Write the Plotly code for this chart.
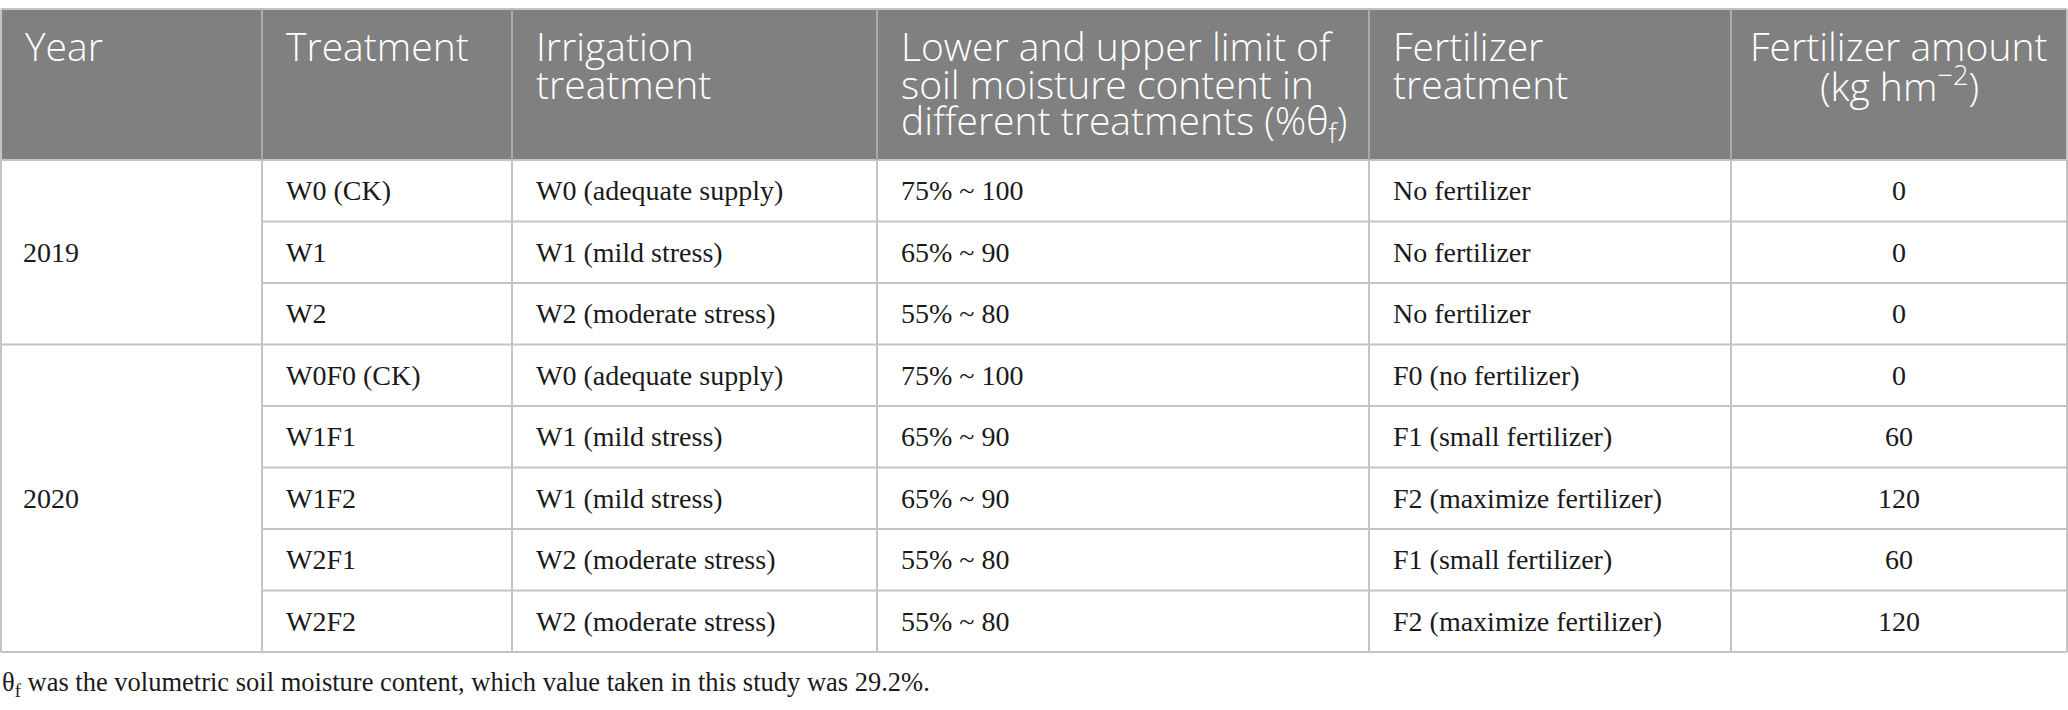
import plotly.graph_objects as go

W, H = 2068, 710

# table content
header_lines = [
    ["Year"],
    ["Treatment"],
    ["Irrigation", "treatment"],
    ["Lower and upper limit of", "soil moisture content in", "different treatments (%θ<sub>f</sub>)"],
    ["Fertilizer", "treatment"],
    ["Fertilizer amount", "(kg hm<sup>−2</sup>)"],
]
years = ["2019", "2020"]
year_spans = [3, 5]
treatments = ["W0 (CK)", "W1", "W2", "W0F0 (CK)", "W1F1", "W1F2", "W2F1", "W2F2"]
irrigation = ["W0 (adequate supply)", "W1 (mild stress)", "W2 (moderate stress)",
              "W0 (adequate supply)", "W1 (mild stress)", "W1 (mild stress)",
              "W2 (moderate stress)", "W2 (moderate stress)"]
moisture_limits = ["75% ~ 100", "65% ~ 90", "55% ~ 80", "75% ~ 100",
                   "65% ~ 90", "65% ~ 90", "55% ~ 80", "55% ~ 80"]
fert_treatment = ["No fertilizer", "No fertilizer", "No fertilizer", "F0 (no fertilizer)",
                  "F1 (small fertilizer)", "F2 (maximize fertilizer)",
                  "F1 (small fertilizer)", "F2 (maximize fertilizer)"]
fert_amount = [0, 0, 0, 0, 60, 120, 60, 120]
footnote = "θ<sub>f</sub> was the volumetric soil moisture content, which value taken in this study was 29.2%."

# layout (pixels)
col_edges = [1, 262, 512, 877, 1369, 1731, 2067]
top, head_bottom, row_h = 9, 160, 61.5
pad = 22
header_bg = "#7f807f"
grid = "#c4c4c4"
head_font = dict(family="Open Sans", size=39, color="white", weight=300)
body_font = dict(family="Liberation Serif", size=28, color="#1a1a1a")

n_rows = len(treatments)
bottom = head_bottom + n_rows * row_h

fig = go.Figure()
shapes = []
annotations = []

# header background
shapes.append(dict(type="rect", x0=col_edges[0], x1=col_edges[-1], y0=top, y1=head_bottom,
                   fillcolor=header_bg, line_width=0, layer="below"))

# header text, one annotation per line to keep the tight leading
for ci, lines in enumerate(header_lines):
    centered = ci == len(header_lines) - 1
    for li, txt in enumerate(lines):
        x = (col_edges[ci] + col_edges[ci + 1]) / 2 if centered else col_edges[ci] + pad
        annotations.append(dict(x=x, y=45 + li * 38.5, text=txt, showarrow=False,
                                xanchor="center" if centered else "left", yanchor="middle",
                                font=head_font))

# body text
cols = [treatments, irrigation, moisture_limits, fert_treatment, fert_amount]
for ci, col in enumerate(cols, start=1):
    centered = ci == len(header_lines) - 1
    for ri, val in enumerate(col):
        x = (col_edges[ci] + col_edges[ci + 1]) / 2 if centered else col_edges[ci] + pad
        annotations.append(dict(x=x, y=head_bottom + (ri + 0.5) * row_h, text=str(val),
                                showarrow=False, xanchor="center" if centered else "left",
                                yanchor="middle", font=body_font))

# year cells (merged)
start = 0
group_breaks = []
for yr, span in zip(years, year_spans):
    y_mid = head_bottom + (start + span / 2) * row_h
    annotations.append(dict(x=col_edges[0] + pad - 2, y=y_mid, text=yr, showarrow=False,
                            xanchor="left", yanchor="middle", font=body_font))
    start += span
    group_breaks.append(start)

# horizontal grid lines
def hline(x0, x1, y, color=grid, w=2):
    shapes.append(dict(type="line", x0=x0, x1=x1, y0=y, y1=y, line=dict(color=color, width=w)))

hline(col_edges[0], col_edges[-1], top)
hline(col_edges[0], col_edges[-1], head_bottom)
for r in range(1, n_rows + 1):
    y = head_bottom + r * row_h
    x0 = col_edges[0] if r in group_breaks else col_edges[1]
    hline(x0, col_edges[-1], y)

# vertical grid lines
for i, x in enumerate(col_edges):
    shapes.append(dict(type="line", x0=x, x1=x, y0=top, y1=head_bottom,
                       line=dict(color="#a9aaa9" if 0 < i < len(col_edges) - 1 else grid, width=2)))
    shapes.append(dict(type="line", x0=x, x1=x, y0=head_bottom, y1=bottom,
                       line=dict(color=grid, width=2)))

# footnote
annotations.append(dict(x=0, y=bottom + 32, text=footnote, showarrow=False,
                        xanchor="left", yanchor="middle",
                        font=dict(family="Liberation Serif", size=26.5, color="#1a1a1a")))

fig.update_layout(
    width=W, height=H,
    margin=dict(l=0, r=0, t=0, b=0),
    paper_bgcolor="white", plot_bgcolor="white",
    xaxis=dict(range=[0, W], visible=False, fixedrange=True),
    yaxis=dict(range=[H, 0], visible=False, fixedrange=True),
    shapes=shapes, annotations=annotations,
    showlegend=False,
)

# drop the default page margin so the table sits flush with the window edge
fig.write_html("out.html", config={"displayModeBar": False},
               post_script="document.body.style.margin='0';")
